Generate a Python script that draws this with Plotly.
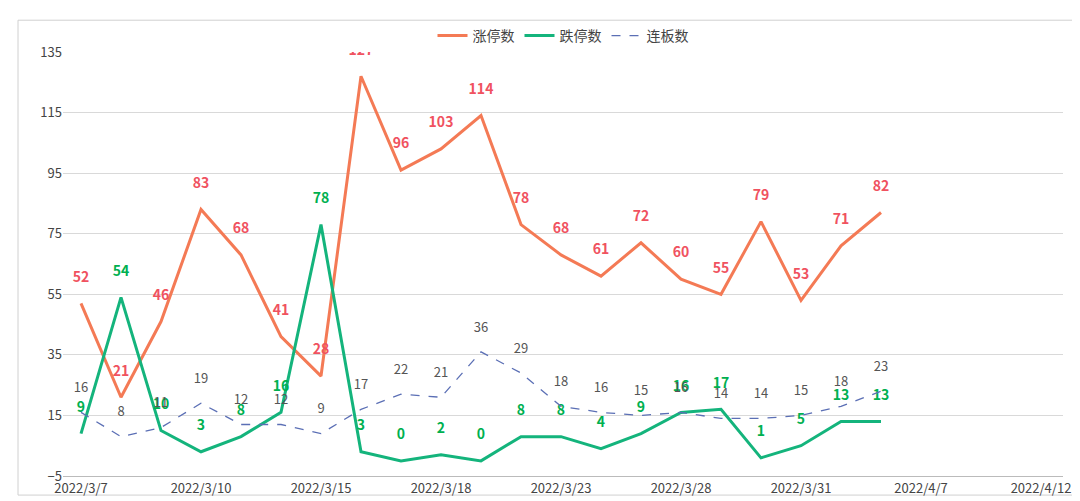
import plotly.graph_objects as go

dates = ["2022/3/7", "2022/3/8", "2022/3/9", "2022/3/10", "2022/3/11", "2022/3/14",
         "2022/3/15", "2022/3/16", "2022/3/17", "2022/3/18", "2022/3/21", "2022/3/22",
         "2022/3/23", "2022/3/24", "2022/3/25", "2022/3/28", "2022/3/29", "2022/3/30",
         "2022/3/31", "2022/4/1", "2022/4/6"]
extra_dates = ["2022/4/7", "2022/4/8", "2022/4/11", "2022/4/12"]
limit_up = [52, 21, 46, 83, 68, 41, 28, 127, 96, 103, 114, 78, 68, 61, 72, 60, 55, 79, 53, 71, 82]
limit_down = [9, 54, 10, 3, 8, 16, 78, 3, 0, 2, 0, 8, 8, 4, 9, 16, 17, 1, 5, 13, 13]
consecutive = [16, 8, 11, 19, 12, 12, 9, 17, 22, 21, 36, 29, 18, 16, 15, 16, 14, 14, 15, 18, 23]

all_dates = dates + extra_dates
tick_dates = all_dates[::3]
y_ticks = [-5, 15, 35, 55, 75, 95, 115, 135]

def labels(vals):
    # pad with a line break so the label sits a bit higher above the point
    return [f"{v}<br> " for v in vals]

fig = go.Figure()
fig.add_trace(go.Scatter(x=dates, y=limit_up, name="涨停数", mode="lines+text",
                         line=dict(color="#f47a55", width=3),
                         text=labels(limit_up), textposition="top center",
                         textfont=dict(color="#f0525f", size=14, family="Noto Sans CJK SC, sans-serif", weight="bold")))
fig.add_trace(go.Scatter(x=dates, y=limit_down, name="跌停数", mode="lines+text",
                         line=dict(color="#14b47c", width=3),
                         text=labels(limit_down), textposition="top center",
                         textfont=dict(color="#00b050", size=14, family="Noto Sans CJK SC, sans-serif", weight="bold")))
fig.add_trace(go.Scatter(x=dates, y=consecutive, name="连板数", mode="lines+text",
                         line=dict(color="#5b6fb5", width=1.3, dash="dash"),
                         text=labels(consecutive), textposition="top center",
                         textfont=dict(color="#555555", size=13)))

fig.update_layout(
    width=1080, height=501,
    paper_bgcolor="white", plot_bgcolor="white",
    margin=dict(l=55, r=25, t=38, b=25),
    font=dict(family="Noto Sans CJK SC, sans-serif", size=13, color="#444444"),
    legend=dict(orientation="h", x=0.5, xanchor="center", y=1.0, yanchor="bottom",
                font=dict(size=14, color="#444444"), bgcolor="rgba(0,0,0,0)"),
    xaxis=dict(type="category", categoryorder="array", categoryarray=all_dates,
               range=[-0.45, 24.55], autorange=False, tickvals=tick_dates, ticktext=tick_dates,
               showgrid=False, showline=True, linecolor="#bbbbbb", ticks="",
               tickfont=dict(size=13, color="#444444")),
    yaxis=dict(range=[-5, 135], tickvals=y_ticks, showgrid=True, gridcolor="#d9d9d9",
               zeroline=False, ticks="", tickfont=dict(size=13, color="#444444")),
    shapes=[dict(type="path", xref="paper", yref="paper",
                 path="M -0.045,-0.045 L 1.02,-0.045 L 1.02,1.075 L -0.045,1.075 Z",
                 line=dict(color="#d0d0d0", width=1), layer="below")],
)

fig.write_html("out.html")
